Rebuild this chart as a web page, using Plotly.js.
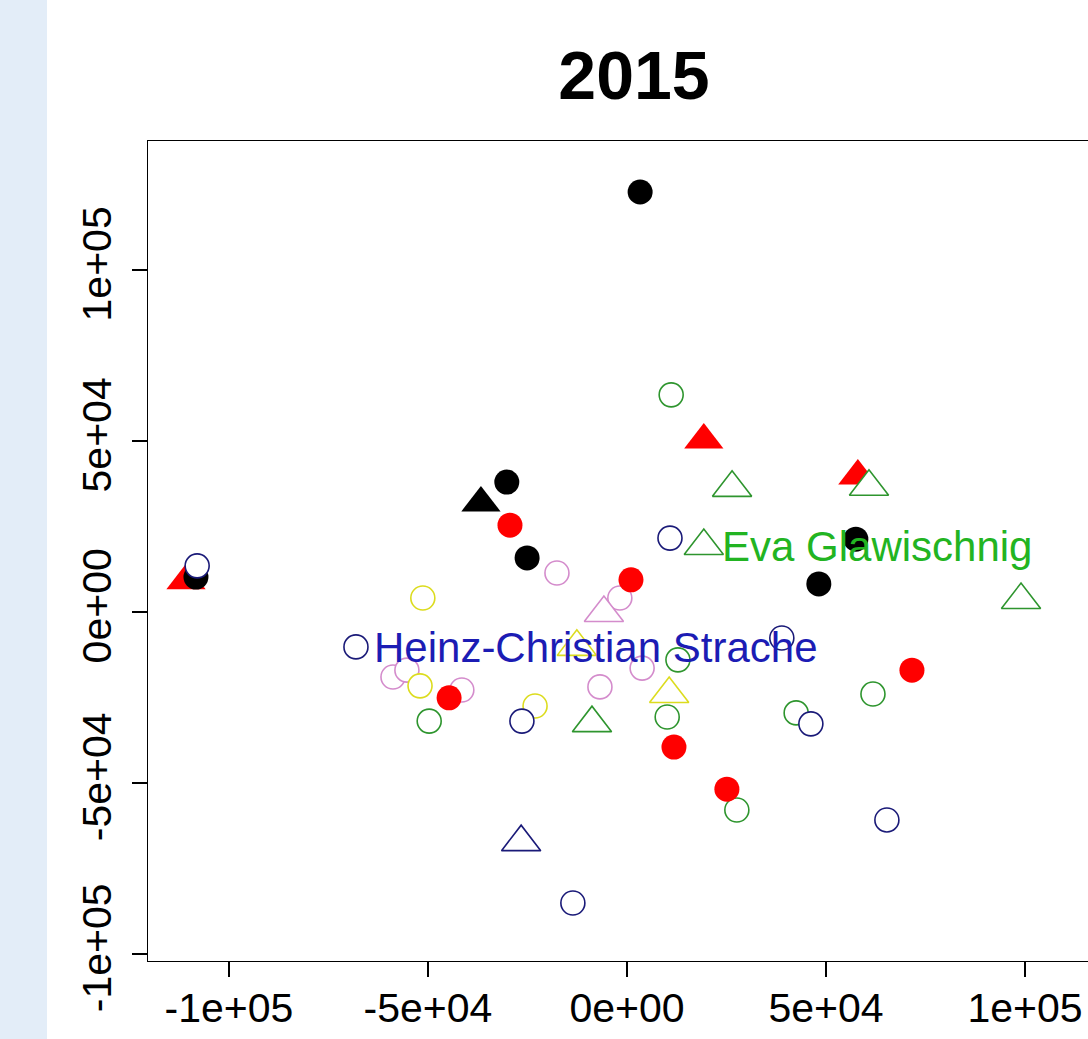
<!DOCTYPE html>
<html>
<head>
<meta charset="utf-8">
<script src="https://cdn.plot.ly/plotly-3.0.1.min.js"></script>
<style>
  html, body { margin: 0; padding: 0; overflow: hidden; width: 1088px; height: 1039px;
    background: linear-gradient(to right, #e3edf8 0px, #e3edf8 47px, #ffffff 47px); }
  #chart { width: 1150px; height: 1039px; }
</style>
</head>
<body>
<div id="chart"></div>
<script>
// ---- data ----
const title = "2015";
const tickVals = [-100000, -50000, 0, 50000, 100000];
const tickText = ["-1e+05", "-5e+04", "0e+00", "5e+04", "1e+05"];

// black group
const blackCircleX = [3300, -30200, -25100, 48200, 57500, -108300];
const blackCircleY = [122800, 38000, 15800, 8200, 21300, 10200];
const blackTriX = [-36700];
const blackTriY = [31900];

// red group
const redCircleX = [-29400, 1000, -44700, 11800, 25100, 71600];
const redCircleY = [25400, 9400, -25100, -39500, -51800, -17000];
const redTriX = [19300, 58000, -110800];
const redTriY = [50300, 39800, 9100];

// navy group
const navyCircleX = [-108000, 10800, -68100, -26400, 38900, 46200, 65300, -13600];
const navyCircleY = [13500, 21600, -10200, -31900, -7600, -32700, -60800, -85100];
const navyTriX = [-26600];
const navyTriY = [-67300];

// green group
const greenCircleX = [11100, -49700, 10100, 12800, 42500, 61800, 27600];
const greenCircleY = [63500, -31900, -30700, -14000, -29500, -24000, -57900];
const greenTriX = [26400, 60800, 19300, 99000, -8800];
const greenTriY = [36300, 36600, 19300, 3500, -32500];

// yellow group
const yellowCircleX = [-51300, -52000, -23100];
const yellowCircleY = [4100, -21600, -27500];
const yellowTriX = [10600, -12600];
const yellowTriY = [-24000, -10200];

// pink group
const pinkCircleX = [-17600, -1800, -58800, -55300, -41500, -6800, 3800];
const pinkCircleY = [11400, 4100, -19000, -17000, -22800, -21900, -16400];
const pinkTriX = [-5800];
const pinkTriY = [-300];

// labelled points
const labelNames = ["Heinz-Christian Strache", "Eva Glawischnig"];
const labelX = [navyCircleX[2], greenTriX[2]];
const labelY = [navyCircleY[2], greenTriY[2]];
const labelColors = ["#1c1cb4", "#22b422"];

// ---- styles ----
const C = { black: "#000000", red: "#ff0000", navy: "#1a1a78", green: "#2e952e",
            yellow: "#dcdc1e", pink: "#d48ccc" };
const font = "'Liberation Sans', Arial, Helvetica, sans-serif";
const circSize = 24, triSize = 34, lw = 1.6;

function filled(x, y, col, sym) {
  return { type: "scatter", mode: "markers", x: x, y: y, hoverinfo: "skip",
    marker: { symbol: sym, size: sym === "circle" ? 25 : triSize, color: col, line: { width: 0 } } };
}
function open(x, y, col, sym) {
  return { type: "scatter", mode: "markers", x: x, y: y, hoverinfo: "skip",
    marker: { symbol: sym, size: sym === "circle" ? circSize : triSize, color: "#ffffff",
              line: { width: lw, color: col } } };
}

const traces = [
  filled(redTriX, redTriY, C.red, "triangle-up"),
  filled(blackTriX, blackTriY, C.black, "triangle-up"),
  filled(blackCircleX, blackCircleY, C.black, "circle"),
  open(pinkCircleX, pinkCircleY, C.pink, "circle"),
  open(pinkTriX, pinkTriY, C.pink, "triangle-up"),
  open(yellowCircleX, yellowCircleY, C.yellow, "circle"),
  open(yellowTriX, yellowTriY, C.yellow, "triangle-up"),
  open(greenCircleX, greenCircleY, C.green, "circle"),
  open(greenTriX, greenTriY, C.green, "triangle-up"),
  open(navyCircleX, navyCircleY, C.navy, "circle"),
  open(navyTriX, navyTriY, C.navy, "triangle-up"),
  filled(redCircleX, redCircleY, C.red, "circle")
];

const annotations = labelNames.map((t, i) => ({
  x: labelX[i], y: labelY[i], xref: "x", yref: "y", text: t, showarrow: false,
  xanchor: "left", yanchor: "middle", xshift: 16, yshift: -1,
  font: { family: font, size: 42, color: labelColors[i] }
}));

const axisCommon = {
  showline: true, mirror: true, linecolor: "#000", linewidth: 1.3,
  showgrid: false, zeroline: false, ticks: "outside", ticklen: 15, tickwidth: 1.3,
  tickcolor: "#000", tickvals: tickVals, ticktext: tickText,
  tickfont: { family: font, size: 41, color: "#000" }, fixedrange: true
};

const layout = {
  width: 1150, height: 1039,
  margin: { l: 148, r: 30, t: 141, b: 78 },
  paper_bgcolor: "rgba(0,0,0,0)", plot_bgcolor: "#ffffff",
  showlegend: false,
  title: { text: "<b>" + title + "</b>", x: 0.5, xref: "paper", xanchor: "center",
           y: 1 - 75 / 1039, yref: "container", yanchor: "middle",
           font: { family: font, size: 68, color: "#000" } },
  xaxis: Object.assign({}, axisCommon, { range: [-120350, 123870], ticklabelstandoff: -5 }),
  yaxis: Object.assign({}, axisCommon, { range: [-102050, 137720], tickangle: -90, ticklabelstandoff: 4 }),
  annotations: annotations
};

Plotly.newPlot("chart", traces, layout, { displayModeBar: false, staticPlot: true });
</script>
</body>
</html>
